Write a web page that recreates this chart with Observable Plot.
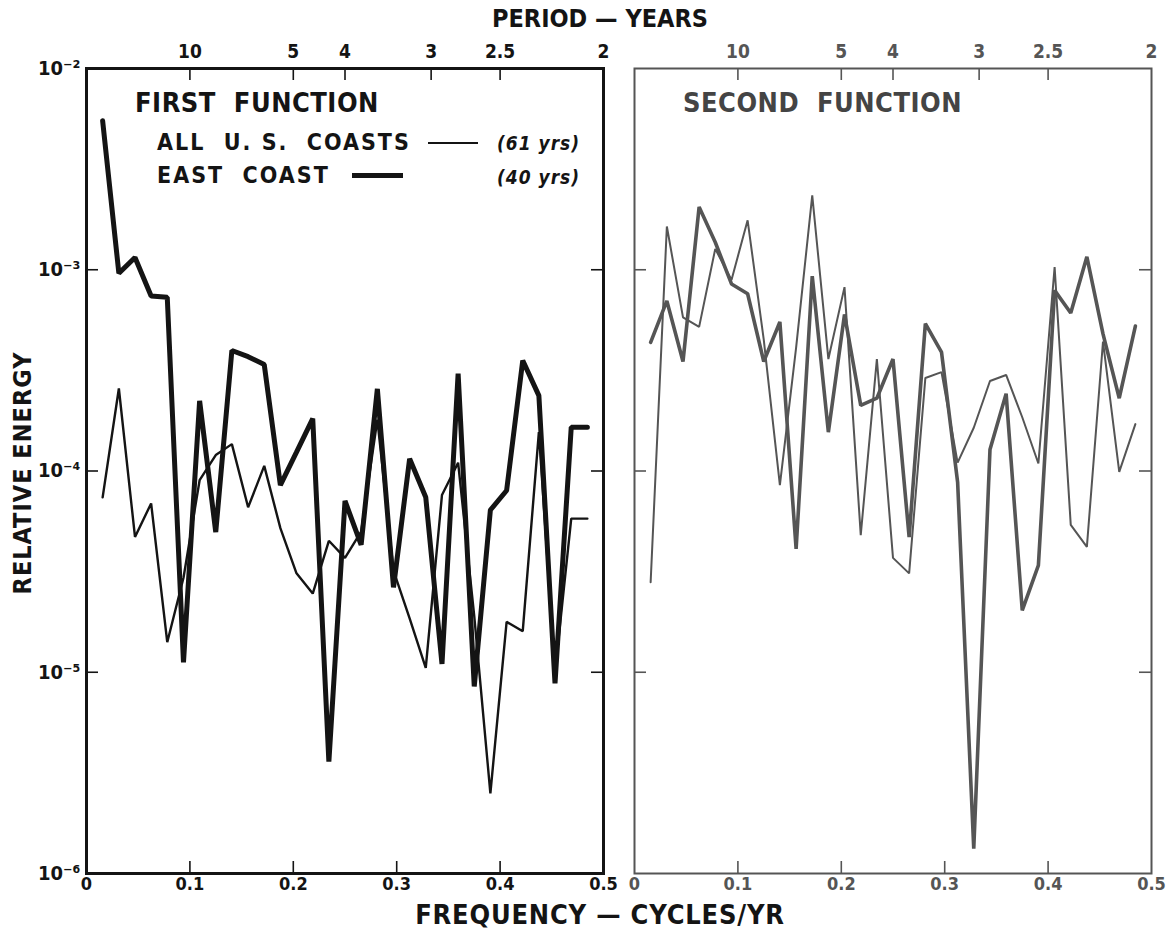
<!DOCTYPE html>
<html><head><meta charset="utf-8">
<script src="https://cdn.jsdelivr.net/npm/d3@7"></script>
<script src="https://cdn.jsdelivr.net/npm/@observablehq/plot@0.6"></script>
<style>
body{margin:0;background:#fff;}
#wrap{position:relative;width:1168px;height:932px;overflow:hidden;font-family:"DejaVu Sans Condensed","Liberation Sans Narrow","DejaVu Sans",sans-serif;}
#wrap svg{position:absolute;top:0;}
.abs{position:absolute;white-space:pre;line-height:1;}
.sw{position:absolute;}
</style></head><body><div id="wrap"></div>
<script>
// frequency (cycles/yr) of each spectral estimate
const freq = [0.0156,0.0313,0.0469,0.0625,0.0781,0.0938,0.1094,0.125,0.1406,0.1563,0.1719,0.1875,0.2031,0.2188,0.2344,0.25,0.2656,0.2813,0.2969,0.3125,0.3281,0.3438,0.3594,0.375,0.3906,0.4063,0.4219,0.4375,0.4531,0.4688,0.4844];
// FIRST FUNCTION
const firstAll  = [7.4e-5,2.57e-4,4.7e-5,6.9e-5,1.41e-5,2.95e-5,9e-5,1.2e-4,1.36e-4,6.6e-5,1.06e-4,5.2e-5,3.1e-5,2.46e-5,4.5e-5,3.7e-5,5e-5,1.8e-4,3.2e-5,1.85e-5,1.05e-5,7.6e-5,1.1e-4,1.9e-5,2.5e-6,1.78e-5,1.6e-5,1.56e-4,1e-5,5.8e-5,5.8e-5];
const firstEast = [5.5e-3,9.6e-4,1.15e-3,7.4e-4,7.3e-4,1.12e-5,2.23e-4,4.97e-5,3.97e-4,3.7e-4,3.38e-4,8.5e-5,1.24e-4,1.82e-4,3.6e-6,7.1e-5,4.3e-5,2.56e-4,2.64e-5,1.15e-4,7.4e-5,1.1e-5,3.05e-4,8.5e-6,6.4e-5,8e-5,3.54e-4,2.37e-4,8.8e-6,1.65e-4,1.65e-4];
// SECOND FUNCTION
const secondAll  = [2.8e-5,1.64e-3,5.8e-4,5.2e-4,1.27e-3,8.9e-4,1.76e-3,4.5e-4,8.5e-5,4.1e-4,2.34e-3,3.6e-4,8.2e-4,4.8e-5,3.6e-4,3.7e-5,3.1e-5,2.9e-4,3.1e-4,1.1e-4,1.64e-4,2.8e-4,3e-4,1.85e-4,1.09e-4,1.03e-3,5.4e-5,4.2e-5,4.4e-4,9.9e-5,1.71e-4];
const secondEast = [4.36e-4,7e-4,3.5e-4,2.05e-3,1.37e-3,8.5e-4,7.6e-4,3.5e-4,5.5e-4,4.1e-5,9.3e-4,1.56e-4,6e-4,2.12e-4,2.3e-4,3.6e-4,4.7e-5,5.4e-4,3.9e-4,8.8e-5,1.33e-6,1.28e-4,2.42e-4,2.03e-5,3.4e-5,7.9e-4,6.1e-4,1.16e-3,4.8e-4,2.3e-4,5.25e-4];
// ticks
const freqTicks = [0,0.1,0.2,0.3,0.4,0.5];
const freqLabels = ["0","0.1","0.2","0.3","0.4","0.5"];
const periodTicks = [0.1,0.2,0.25,0.3333,0.4,0.5];
const periodLabels = ["10","5","4","3","2.5","2"];
const energyTicks = [1e-2,1e-3,1e-4,1e-5,1e-6];
const energyLabels = ["10⁻²","10⁻³","10⁻⁴","10⁻⁵","10⁻⁶"];

const FONT = '"DejaVu Sans Condensed","Liberation Sans Narrow","DejaVu Sans",sans-serif';
const H = 932, MT = 68, MB = 59;
const PH = H - MT - MB;

function panel({all, east, color, thinW, thickW, frameW, width, ml, mr, yLabels}) {
  const PW = width - ml - mr;
  const rows = freq.map((f, i) => ({f, all: all[i], east: east[i]}));
  const inner = energyTicks.slice(1, 4);
  const marks = [
    Plot.line(rows, {x: "f", y: "all", stroke: color, strokeWidth: thinW, strokeLinejoin: "miter"}),
    Plot.line(rows, {x: "f", y: "east", stroke: color, strokeWidth: thickW, strokeLinejoin: "miter"}),
    Plot.tickX(freqTicks.slice(1, 5), {x: d => d, insetTop: PH - 12, stroke: color, strokeWidth: 1.6}),
    Plot.tickX(periodTicks.slice(0, 5), {x: d => d, insetBottom: PH - 12, stroke: color, strokeWidth: 1.6}),
    Plot.tickY(inner, {y: d => d, insetRight: PW - 12, stroke: color, strokeWidth: 1.6}),
    Plot.tickY(inner, {y: d => d, insetLeft: PW - 12, stroke: color, strokeWidth: 1.6}),
    Plot.frame({stroke: color, strokeWidth: frameW}),
    Plot.axisX(freqTicks, {anchor: "bottom", tickSize: 0, tickPadding: 4, label: null,
      tickFormat: d => freqLabels[freqTicks.indexOf(d)], fontSize: 18, fontWeight: "bold", fill: color}),
    Plot.axisX(periodTicks, {anchor: "top", tickSize: 0, tickPadding: 11, label: null,
      tickFormat: d => periodLabels[periodTicks.indexOf(d)], fontSize: 19, fontWeight: "bold", fill: color})
  ];
  if (yLabels) marks.push(Plot.axisY(energyTicks, {anchor: "left", tickSize: 0, tickPadding: 6, label: null,
      tickFormat: d => energyLabels[energyTicks.indexOf(d)], fontSize: 20, fontWeight: "bold", fill: color}));
  return Plot.plot({
    width, height: H, marginLeft: ml, marginRight: mr, marginTop: MT, marginBottom: MB,
    x: {domain: [0, 0.5], axis: null},
    y: {type: "log", domain: [1e-6, 1e-2], axis: null},
    style: {fontFamily: FONT, background: "transparent", overflow: "visible"},
    marks
  });
}

const wrap = document.getElementById("wrap");
const left = panel({all: firstAll, east: firstEast, color: "#141414", thinW: 2.4, thickW: 5, frameW: 3, width: 620, ml: 86, mr: 17, yLabels: true});
left.style.left = "0px";
const right = panel({all: secondAll, east: secondEast, color: "#555", thinW: 2, thickW: 3.6, frameW: 2, width: 548, ml: 14, mr: 17, yLabels: false});
right.style.left = "620px";
wrap.appendChild(left);
wrap.appendChild(right);

function txt(s, css) {
  const d = document.createElement("div");
  d.className = "abs"; d.textContent = s;
  Object.assign(d.style, css);
  wrap.appendChild(d);
  return d;
}
function sw(x, y, w, h, c) {
  const d = document.createElement("div");
  d.className = "sw";
  Object.assign(d.style, {left: x + "px", top: (y - h / 2) + "px", width: w + "px", height: h + "px", background: c});
  wrap.appendChild(d);
}
txt("PERIOD — YEARS", {left: "600px", top: "6px", transform: "translateX(-50%)", fontSize: "25px", fontWeight: "bold", color: "#141414"});
txt("FREQUENCY — CYCLES/YR", {left: "600px", top: "901px", transform: "translateX(-50%)", fontSize: "27px", fontWeight: "bold", color: "#141414", letterSpacing: "0.8px"});
txt("RELATIVE ENERGY", {left: "22px", top: "473px", transform: "translate(-50%,-50%) rotate(-90deg)", fontSize: "25px", fontWeight: "bold", color: "#141414", letterSpacing: "1px"});
txt("FIRST  FUNCTION", {left: "135px", top: "89px", fontSize: "27px", fontWeight: "bold", color: "#141414", letterSpacing: "0.5px"});
txt("SECOND  FUNCTION", {left: "683px", top: "89px", fontSize: "27px", fontWeight: "bold", color: "#444", letterSpacing: "0.5px"});
txt("ALL  U. S.  COASTS", {left: "157px", top: "131px", fontSize: "23px", fontWeight: "bold", color: "#141414", letterSpacing: "2px"});
txt("EAST  COAST", {left: "157px", top: "164px", fontSize: "23px", fontWeight: "bold", color: "#141414", letterSpacing: "2px"});
txt("(61 yrs)", {left: "497px", top: "134px", fontSize: "19px", fontStyle: "italic", fontWeight: "bold", color: "#141414", letterSpacing: "1px"});
txt("(40 yrs)", {left: "497px", top: "168px", fontSize: "19px", fontStyle: "italic", fontWeight: "bold", color: "#141414", letterSpacing: "1px"});
sw(428, 143, 50, 2.4, "#141414");
sw(352, 175, 51, 5, "#141414");
</script></body></html>
